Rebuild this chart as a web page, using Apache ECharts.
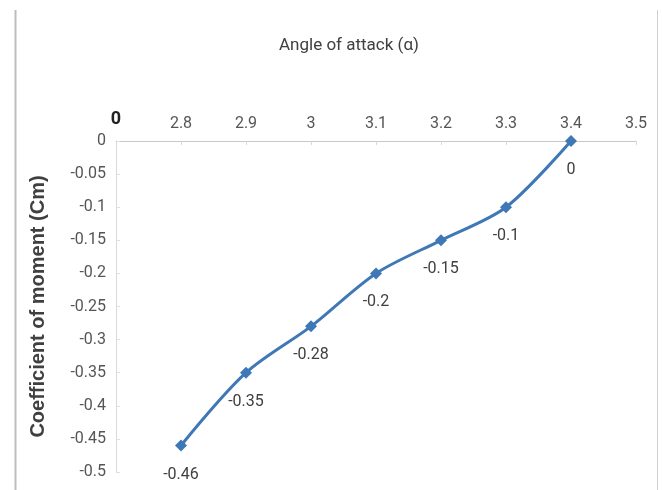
<!DOCTYPE html>
<html>
<head>
<meta charset="utf-8">
<script src="https://cdn.jsdelivr.net/npm/echarts@6/dist/echarts.min.js"></script>
<style>html,body{margin:0;padding:0;background:#fff;}#c{width:662px;height:490px;}</style>
</head>
<body>
<div id="c"></div>
<script>
const xTickLabels = ['0', '2.8', '2.9', '3', '3.1', '3.2', '3.3', '3.4', '3.5'];
const angles = ['2.8', '2.9', '3', '3.1', '3.2', '3.3', '3.4'];
const cmValues = [-0.46, -0.35, -0.28, -0.2, -0.15, -0.1, 0];
const xTitle = 'Angle of attack (α)';
const yTitle = 'Coefficient of moment (Cm)';

const font = "Roboto, 'Liberation Sans Narrow', sans-serif";
const chart = echarts.init(document.getElementById('c'));
chart.setOption({
  animation: false,
  backgroundColor: '#fff',
  title: {
    text: xTitle, left: 274, top: 32,
    textStyle: { fontFamily: font, fontSize: 17, fontWeight: 'normal', color: '#404040' }
  },
  graphic: [
    { type: 'line', shape: { x1: 15.5, y1: 10, x2: 15.5, y2: 490 }, style: { stroke: '#bdbdbd', lineWidth: 2 } },
    { type: 'line', shape: { x1: 657.5, y1: 10, x2: 657.5, y2: 490 }, style: { stroke: '#d0d0d0', lineWidth: 1 } }
  ],
  grid: { left: 116, right: 26, top: 141, bottom: 18, containLabel: false },
  xAxis: {
    type: 'category', position: 'top', boundaryGap: false, data: xTickLabels,
    axisLine: { lineStyle: { color: '#c8c8c8', width: 1 } },
    axisTick: { inside: true, length: 4, lineStyle: { color: '#d8d8d8' } },
    splitLine: { show: false },
    axisLabel: {
      margin: 9, fontFamily: font, fontSize: 16, color: '#555',
      formatter: function (v, i) { return i === 0 ? '{b|' + v + '}' : v; },
      rich: { b: { fontFamily: font, fontSize: 18, fontWeight: 'bold', color: '#222', padding: [0, 0, 4, 0] } }
    }
  },
  yAxis: {
    type: 'value', min: -0.5, max: 0, interval: 0.05,
    name: yTitle, nameLocation: 'middle', nameGap: 68, nameRotate: 90,
    nameTextStyle: { fontFamily: "'Liberation Sans', Arial, sans-serif", fontSize: 20, fontWeight: 'bold', color: '#404040' },
    axisLine: { show: true, lineStyle: { color: '#d9d9d9' } },
    axisTick: { show: true, inside: true, length: 4, lineStyle: { color: '#e0e0e0' } },
    splitLine: { show: false },
    axisLabel: {
      margin: 10, fontFamily: font, fontSize: 16, color: '#555',
      formatter: function (v) { return String(Math.round(v * 100) / 100); }
    }
  },
  series: [{
    type: 'line', smooth: 0.3,
    data: angles.map((a, i) => [a, cmValues[i]]),
    symbol: 'diamond', symbolSize: 12,
    lineStyle: { color: '#3f78b6', width: 3 },
    itemStyle: { color: '#3f78b6' },
    label: {
      show: true, position: 'bottom', distance: 15,
      fontFamily: font, fontSize: 16, color: '#404040',
      formatter: function (p) { return String(p.value[1]); }
    }
  }]
});
</script>
</body>
</html>
